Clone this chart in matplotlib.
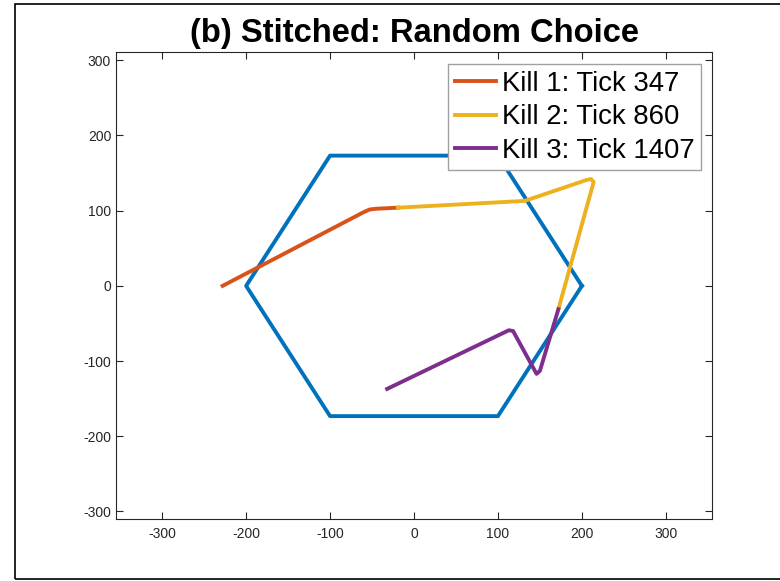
import matplotlib.pyplot as plt
from matplotlib.patches import Rectangle
import numpy as np

plt.rcParams['font.family'] = ['Liberation Sans', 'DejaVu Sans']
plt.rcParams['axes.unicode_minus'] = False

# arena boundary (hexagon, radius 200)
hex_x = [200, 100, -100, -200, -100, 100, 200]
hex_y = [0, 173.2, 173.2, 0, -173.2, -173.2, 0]

# kill segments of the stitched trajectory
kill1_x = [-228, -60, -53, -46, -19]
kill1_y = [0, 98, 101.5, 102.5, 104]
kill2_x = [-19, 132, 206, 211, 214, 172]
kill2_y = [104, 113, 141, 142, 138, -31]
kill3_x = [172, 150, 146, 118, 113, -32]
kill3_y = [-31, -113, -117, -60, -59, -137]
labels = ['Kill 1: Tick 347', 'Kill 2: Tick 860', 'Kill 3: Tick 1407']

fig = plt.figure(figsize=(7.8, 5.81), dpi=100)
ax = fig.add_axes([116 / 780, 62 / 581, 596 / 780, 467 / 581])

lw = 2.8
ax.plot(hex_x, hex_y, color='#0072BD', lw=lw, solid_joinstyle='round')
h1, = ax.plot(kill1_x, kill1_y, color='#D95319', lw=lw, solid_joinstyle='round')
h2, = ax.plot(kill2_x, kill2_y, color='#EDB120', lw=lw, solid_joinstyle='round')
h3, = ax.plot(kill3_x, kill3_y, color='#7E2F8E', lw=lw, solid_joinstyle='round')

ax.set_xlim(-355, 355)
ax.set_ylim(-310, 311)
ax.set_xticks(np.arange(-300, 301, 100))
ax.set_yticks(np.arange(-300, 301, 100))
ax.tick_params(direction='in', length=5, width=0.8, top=True, right=True,
               labelsize=10, colors='#262626', color='#262626')
ax.tick_params(axis='x', pad=6)
for s in ax.spines.values():
    s.set_color('#262626')
    s.set_linewidth(0.8)

ax.set_title('(b) Stitched: Random Choice', fontsize=23.6, fontweight='bold', pad=7)

leg = ax.legend([h1, h2, h3], labels, loc='upper right', fontsize=19.8,
                bbox_to_anchor=(0.982, 0.974), frameon=True, fancybox=False,
                handlelength=1.5, handletextpad=0.2, labelspacing=0.265,
                borderpad=0.25, borderaxespad=0)
leg.get_frame().set_edgecolor('#A0A0A0')
leg.get_frame().set_linewidth(1)
leg.get_frame().set_alpha(1)

# outer frame around the figure
fig.patches.append(Rectangle((15 / 780, 2 / 581), 1, 1 - 6 / 581, transform=fig.transFigure,
                             fill=False, edgecolor='black', lw=1.2))

fig.savefig('out.png', dpi=100)
